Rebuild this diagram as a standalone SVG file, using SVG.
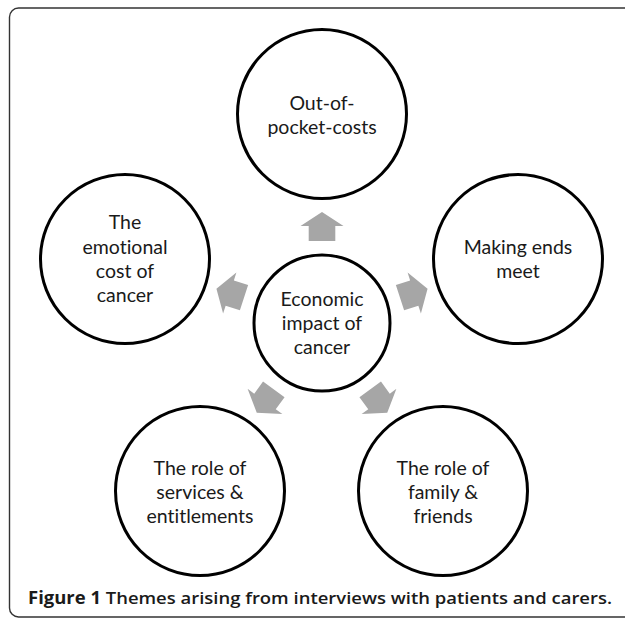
<svg xmlns="http://www.w3.org/2000/svg" width="625" height="619" viewBox="0 0 625 619">
<style>
.node circle{fill:#fff;stroke:#000;stroke-width:3}
.lbl{font-family:Lato,"Open Sans","Liberation Sans",sans-serif;font-size:19.5px;fill:#1a1a1a;text-anchor:middle;font-variant-ligatures:none;font-feature-settings:"liga" 0}
.arr{fill:#a6a6a6}
.cap{font-family:"Open Sans","Liberation Sans",sans-serif;font-size:17px;fill:#1a1a1a;font-weight:600}
</style>
<defs>
<path id="arrow" class="arr" d="M0,-111 L21.5,-97 L13.3,-97 L13.3,-82 L-13.3,-82 L-13.3,-97 L-21.5,-97 Z"/>
</defs>
<rect x="9.5" y="8" width="660" height="609" rx="9" ry="9" fill="#fff" stroke="#333" stroke-width="1.4"/>
<g id="connectors">
<use href="#arrow" transform="translate(322,323) rotate(0)"/>
<use href="#arrow" transform="translate(322,323) rotate(72)"/>
<use href="#arrow" transform="translate(322,323) rotate(144)"/>
<use href="#arrow" transform="translate(322,323) rotate(216)"/>
<use href="#arrow" transform="translate(322,323) rotate(288)"/>
</g>
<g id="node-top" class="node">
<circle cx="322" cy="114" r="84.5"/>
<text class="lbl" x="322" y="110">Out-of-</text>
<text class="lbl" x="322" y="134">pocket-costs</text>
</g>
<g id="node-left" class="node">
<circle cx="125" cy="259" r="84.5"/>
<text class="lbl" x="125" y="229">The</text>
<text class="lbl" x="125" y="254">emotional</text>
<text class="lbl" x="125" y="278">cost of</text>
<text class="lbl" x="125" y="302">cancer</text>
</g>
<g id="node-right" class="node">
<circle cx="518" cy="259" r="84.5"/>
<text class="lbl" x="518" y="254">Making ends</text>
<text class="lbl" x="518" y="278">meet</text>
</g>
<g id="node-center" class="node">
<circle cx="322" cy="323" r="68"/>
<text class="lbl" x="322" y="306">Economic</text>
<text class="lbl" x="322" y="330">impact of</text>
<text class="lbl" x="322" y="354">cancer</text>
</g>
<g id="node-bl" class="node">
<circle cx="200" cy="491" r="84.5"/>
<text class="lbl" x="200" y="475">The role of</text>
<text class="lbl" x="200" y="499">services &amp;</text>
<text class="lbl" x="200" y="523">entitlements</text>
</g>
<g id="node-br" class="node">
<circle cx="443" cy="491" r="84.5"/>
<text class="lbl" x="443" y="475">The role of</text>
<text class="lbl" x="443" y="499">family &amp;</text>
<text class="lbl" x="443" y="523">friends</text>
</g>
<text class="cap" x="28" y="604" textLength="584" lengthAdjust="spacingAndGlyphs"><tspan font-weight="700">Figure 1</tspan> Themes arising from interviews with patients and carers.</text>
</svg>
